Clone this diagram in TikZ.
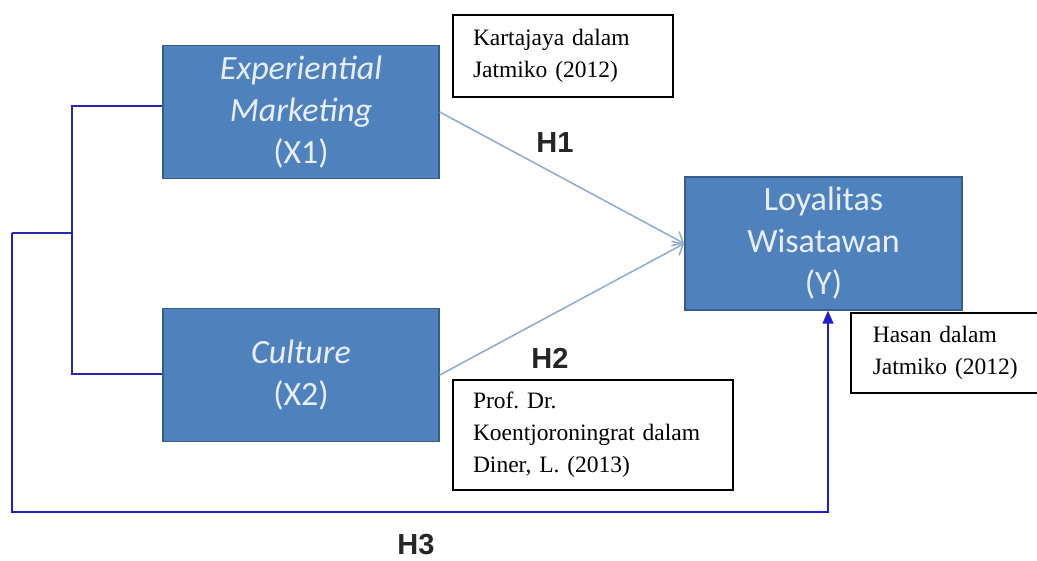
\documentclass[tikz,border=0pt]{standalone}
\usepackage{fontspec}
\setmainfont{Liberation Serif}
\newfontfamily\carl{Carlito}
\newfontfamily\arl{Liberation Sans}
\usetikzlibrary{arrows.meta}
\frenchspacing
\definecolor{boxfill}{RGB}{79,129,189}
\definecolor{boxline}{RGB}{56,93,138}
\definecolor{boxtext}{RGB}{232,239,250}
\definecolor{arrowgrey}{RGB}{150,172,204}
\definecolor{navyline}{RGB}{40,40,170}
\definecolor{blueline}{RGB}{30,30,210}
\tikzset{
  var/.style={draw=boxline, line width=1.5pt, fill=boxfill, text=boxtext,
    minimum width=276pt, minimum height=133pt, inner sep=0pt, align=center,
    font=\carl\fontsize{34}{42}\selectfont},
  ref/.style={draw=black, line width=1.6pt, fill=white, align=left, inner xsep=20pt, inner ysep=0pt,
    font=\fontsize{23.5}{32}\selectfont},
  hyp/.style={font=\arl\bfseries\fontsize{29}{30}\selectfont, text=black!85, inner sep=0pt},
  path/.style={draw=arrowgrey, line width=1.6pt, -{Straight Barb[length=9pt,width=16pt,line width=1.6pt]}},
  brack/.style={draw=navyline, line width=1.6pt},
}
\begin{document}
\begin{tikzpicture}[x=1pt,y=-1pt]
\useasboundingbox (0,0) rectangle (1037,561);
\clip (0,0) rectangle (1037,561);
% variable boxes
\node[var] (X1) at (301,112) {\itshape Experiential\\\itshape Marketing\\(X1)};
\node[var] (X2) at (301,375) {\itshape Culture\\(X2)};
\node[var, minimum width=277pt] (Y) at (823.5,243.5) {Loyalitas\\Wisatawan\\(Y)};
% reference boxes
\node[ref, text width=180pt, minimum height=82pt] (RK) at (563,56) {Kartajaya dalam\\Jatmiko (2012)};
\node[ref, text width=240pt, minimum height=110pt] (RP) at (593,435) {Prof. Dr.\\Koentjoroningrat dalam\\Diner, L. (2013)};
\node[ref, anchor=north west, inner xsep=22pt, text width=156pt, minimum height=80pt] (RH) at (850,312) {Hasan dalam\\Jatmiko (2012)};
% hypothesis labels
\node[hyp] (H1) at (555,143) {H1};
\node[hyp] (H2) at (550,358) {H2};
\node[hyp] (H3) at (416,545) {H3};
% direct paths
\draw[path] (X1.east) -- (Y.west);
\draw[path] (X2.east) -- (Y.west);
% bracket joining X1 and X2
\coordinate (b1) at (72,106);
\coordinate (b2) at (72,374);
\coordinate (b3) at (72,233);
\coordinate (o1) at (12,233);
\coordinate (o2) at (12,512);
\coordinate (o3) at (828,512);
\draw[brack] (X1.west |- b1) -- (b1) -- (b2) -- (X2.west |- b2);
\draw[brack] (b3) -- (o1);
\draw[draw=blueline, line width=1.6pt, -{Triangle[length=13pt,width=11pt]}] (o1) -- (o2) -- (o3) -- (o3 |- Y.south);
\end{tikzpicture}
\end{document}
